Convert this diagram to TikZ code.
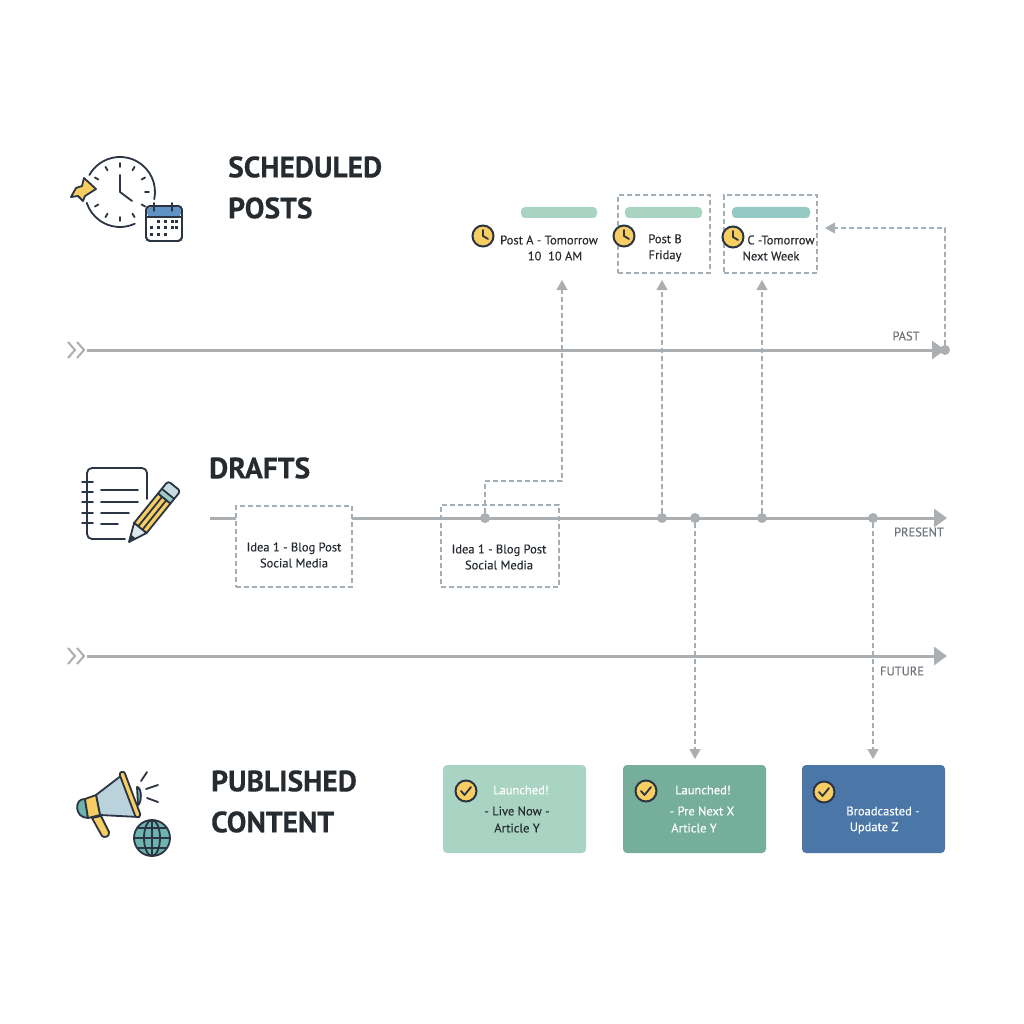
\documentclass[tikz,border=0pt]{standalone}
\usepackage{fontspec}
\setmainfont{PT Sans}
\newfontfamily\bodyfont[FakeBold=0.25]{PT Sans}
\newfontfamily\headfont[FakeBold=0.3]{PT Sans Bold}
\usetikzlibrary{arrows.meta,positioning}

\definecolor{axisgray}{HTML}{ABAFB2}
\definecolor{dashgray}{HTML}{A3AFB8}
\definecolor{labelgray}{HTML}{6E7478}
\definecolor{inkdark}{HTML}{262B30}
\definecolor{navy}{HTML}{2A3442}
\definecolor{sunny}{HTML}{F8CE62}
\definecolor{mintlight}{HTML}{A9D3C2}
\definecolor{mintdark}{HTML}{76AE9C}
\definecolor{steelblue}{HTML}{4A76A8}
\definecolor{tealbar}{HTML}{94C9C4}
\definecolor{globeteal}{HTML}{70B3AE}
\definecolor{hornblue}{HTML}{BAD2DC}
\definecolor{calblue}{HTML}{5F93C6}

\begin{document}
\begin{tikzpicture}[x=1pt,y=-1pt,>={Triangle[length=10pt,width=11pt,color=axisgray]}]
  \tikzset{
    heading/.style={font=\headfont\fontsize{29.5}{30}\selectfont,text=inkdark,anchor=west,inner sep=0pt},
    bodytext/.style={font=\bodyfont\fontsize{12.5}{16}\selectfont,text=inkdark,align=center,inner sep=0pt},
    axislabel/.style={font=\bodyfont\fontsize{12.5}{14}\selectfont,text=labelgray,inner sep=0pt},
    axisline/.style={draw=axisgray,line width=3pt,-{Triangle[length=13pt,width=18pt]}},
    dashbox/.style={draw=dashgray,dash pattern=on 5pt off 3pt,line width=1.2pt,inner sep=0pt},
    dashlink/.style={draw=dashgray,dash pattern=on 5pt off 3pt,line width=1.2pt,->},
    dot/.style={circle,fill=axisgray,minimum size=10pt,inner sep=0pt},
    pill/.style={rounded corners=4pt,minimum height=11pt,inner sep=0pt},
    card/.style={rounded corners=4pt,minimum width=143pt,minimum height=88pt,inner sep=0pt},
    badge/.style={circle,draw=navy,line width=2pt,fill=sunny,minimum size=21pt,inner sep=0pt},
    iconline/.style={draw=navy,line width=1.8pt,line cap=round,line join=round}
  }
  \useasboundingbox[fill=white] (0,0) rectangle (1024,1024);

  % Headings
  \node[heading] (hSched) at (228,167) {SCHEDULED};
  \node[heading] (hPosts) at (228,208) {POSTS};
  \node[heading] (hDrafts) at (209,468) {DRAFTS};
  \node[heading] (hPub) at (211,781) {PUBLISHED};
  \node[heading] (hCont) at (211,822) {CONTENT};

  % Timelines
  \coordinate (pastL) at (87,350);
  \coordinate (pastR) at (945,350);
  \coordinate (nowL) at (210,518);
  \coordinate (nowR) at (947,518);
  \coordinate (futL) at (87,656);
  \coordinate (futR) at (947,656);
  \draw[axisline] (pastL) -- (pastR);
  \draw[axisline] (nowL) -- (nowR);
  \draw[axisline] (futL) -- (futR);
  \foreach \ya in {350,656}{
    \draw[axisgray,line width=2pt] (68,\ya-8) -- (75,\ya) -- (68,\ya+8);
    \draw[axisgray,line width=2pt] (77,\ya-8) -- (84,\ya) -- (77,\ya+8);
  }
  \node[axislabel] (lPast) at (906,336) {PAST};
  \node[axislabel] (lNow) at (919,532) {PRESENT};
  \node[axislabel] (lFut) at (902,671) {FUTURE};

  % Points on the timelines
  \node[dot] (dA) at (485,518) {};
  \node[dot] (dB) at (662,518) {};
  \node[dot] (dX) at (695,518) {};
  \node[dot] (dC) at (762,518) {};
  \node[dot] (dZ) at (873,518) {};
  \node[dot] (dP) at (945,350) {};

  % Scheduled
  \node[pill,fill=mintlight,minimum width=76pt] (barA) at (559,212.5) {};
  \node[pill,fill=mintlight,minimum width=77pt] (barB) at (663.5,212.5) {};
  \node[pill,fill=tealbar,minimum width=78pt] (barC) at (771,212.5) {};
  \node[dashbox,minimum width=92pt,minimum height=78pt] (boxB) at (664,234) {};
  \node[dashbox,minimum width=93pt,minimum height=78pt] (boxC) at (770.5,234) {};
  \node[bodytext] (txtA) at (549,240) {Post A - Tomorrow};
  \node[bodytext] (txtAb) at (555,256) {10\ \ 10 AM};
  \node[bodytext] (txtB) at (665,248) {Post B\\Friday};
  \node[bodytext] (txtC) at (781,240) {C -Tomorrow};
  \node[bodytext] (txtCb) at (771,256) {Next Week};
  \foreach \nm/\xa/\ya in {clkA/483/236,clkB/624/236,clkC/733/237}{
    \node[badge] (\nm) at (\xa,\ya) {};
    \draw[navy,line width=1.8pt,line cap=round] (\xa,\ya-6) -- (\xa,\ya) -- (\xa+5,\ya+3);
  }

  % Drafts
  \node[dashbox,fill=white,minimum width=116pt,minimum height=81pt] (ideaA) at (294,546.5) {};
  \node[dashbox,minimum width=118pt,minimum height=82pt] (ideaB) at (500,546) {};
  \node[bodytext] (txtIa) at (294,555) {Idea 1 - Blog Post\\Social Media};
  \node[bodytext] (txtIb) at (499,557) {Idea 1 - Blog Post\\Social Media};

  % Published
  \node[card,fill=mintlight] (cardA) at (514.5,809) {};
  \node[card,fill=mintdark] (cardB) at (694.5,809) {};
  \node[card,fill=steelblue] (cardC) at (873.5,809) {};
  \foreach \nm/\xa/\ya in {chkA/466/791,chkB/646/791,chkC/824/792}{
    \node[badge] (\nm) at (\xa,\ya) {};
    \draw[navy,line width=1.8pt,line cap=round,line join=round] (\xa-5,\ya) -- (\xa-1.5,\ya+4) -- (\xa+5,\ya-4);
  }
  \node[bodytext,text=white] (t1) at (521,790) {Launched!};
  \node[bodytext] (t2) at (517,811) {- Live Now -};
  \node[bodytext] (t3) at (517,828) {Article Y};
  \node[bodytext,text=white] (t4) at (703,790) {Launched!};
  \node[bodytext,text=white] (t5) at (702,811) {- Pre Next X};
  \node[bodytext,text=white] (t6) at (694,828) {Article Y};
  \node[bodytext,text=white] (t7) at (883,811) {Broadcasted -};
  \node[bodytext,text=white] (t8) at (874,828) {Update Z};

  % Links
  \coordinate (upA) at (562,280);
  \coordinate (upB) at (662,280);
  \coordinate (upC) at (762,280);
  \coordinate (downX) at (695,759);
  \coordinate (downZ) at (873,759);
  \coordinate (backP) at (825,228);
  \draw[dashlink] (dA) -- (485,481) -- (562,481) -- (upA);
  \draw[dashlink] (dB) -- (upB);
  \draw[dashlink] (dC) -- (upC);
  \draw[dashlink] (dX) -- (downX);
  \draw[dashlink] (dZ) -- (downZ);
  \draw[dashlink] (dP) -- (945,228) -- (backP);

  % Clock icon
  \draw[iconline] (120,192) ++(209:35) arc[start angle=209,end angle=372,radius=35];
  \draw[iconline] (120,192) ++(65:35) arc[start angle=65,end angle=162,radius=35];
  \foreach \an in {-90,-60,-30,0,30,60,90,120,150,210,240}{
    \draw[iconline] (120,192) ++(\an:25) -- ++(\an:4);
  }
  \draw[iconline] (120,175) -- (120,192) -- (132,201);
  \draw[iconline,fill=sunny] (96,189) -- (84,178) -- (82,186) -- (76,188) -- (71,197) -- (78,196) -- (83,201) -- (85,196) -- cycle;
  \draw[iconline,fill=white,rounded corners=4pt] (146,206) rectangle (182,241);
  \fill[calblue,rounded corners=4pt] (147,207) rectangle (181,217);
  \draw[iconline] (146,217) -- (182,217);
  \draw[iconline,rounded corners=4pt] (146,206) rectangle (182,241);
  \draw[iconline] (154,203) -- (154,211);
  \draw[iconline] (172,203) -- (172,211);
  \foreach \xa in {158,165,172,176}{\fill[navy] (\xa-1.5,220.5) rectangle +(3,3);}
  \foreach \xa in {151,158,165,172,176}{\fill[navy] (\xa-1.5,226.5) rectangle +(3,3);}
  \foreach \xa in {151,158,165}{\fill[navy] (\xa-1.5,233) rectangle +(3,3);}

  % Notebook icon
  \draw[iconline,rounded corners=5pt] (147,499) -- (147,468) -- (87,468) -- (87,539) -- (125,539);
  \foreach \ya in {482,492,502,513,523}{\draw[iconline] (82,\ya) -- (93,\ya);}
  \draw[iconline] (101,490) -- (138,490);
  \draw[iconline] (101,502) -- (138,502);
  \draw[iconline] (101,513) -- (129,513);
  \draw[iconline] (101,524) -- (118,524);
  \begin{scope}[shift={(129,542)},rotate=51]
    \draw[iconline,fill=sunny] (18,-8) rectangle (56,8);
    \draw[iconline] (18,-2.7) -- (56,-2.7);
    \draw[iconline] (18,2.7) -- (56,2.7);
    \draw[iconline,fill=hornblue!80!white,rounded corners=3pt] (60,-8) -- (72,-8) -- (72,8) -- (60,8) -- cycle;
    \draw[iconline,fill=globeteal!70!white] (56,-8) rectangle (62,8);
    \draw[iconline,fill=hornblue!50!white] (0,0) -- (18,-8) -- (18,8) -- cycle;
    \fill[navy] (0,0) -- (7,-3.1) -- (7,3.1) -- cycle;
  \end{scope}

  % Megaphone icon
  \draw[iconline,fill=globeteal] (137,787) .. controls (142,787) and (142,803) .. (138,805) -- cycle;
  \draw[iconline,fill=hornblue] (96,795) -- (122,775) -- (139,817) -- (100,815) -- cycle;
  \draw[iconline,fill=globeteal] (85,799) .. controls (74,798) and (74,818) .. (88,818) -- cycle;
  \draw[iconline,fill=sunny] (92,818) -- (101,816) -- (109,832) .. controls (110,837) and (104,838) .. (102,836) -- cycle;
  \draw[iconline,fill=sunny] (85,799) -- (96,795) -- (100,815) -- (88,818) -- cycle;
  \draw[iconline,fill=sunny,rounded corners=2.5pt] (119,773) -- (124,771) -- (141,816) -- (136,818) -- cycle;
  \draw[iconline] (141,781) -- (147,772);
  \draw[iconline] (146,789) -- (158,785);
  \draw[iconline] (147,798) -- (158,802);
  \draw[iconline,fill=globeteal] (152,838) circle[radius=18];
  \draw[iconline] (152,838) ellipse[x radius=8,y radius=18];
  \draw[iconline] (134,838) -- (170,838);
  \draw[iconline] (152,820) -- (152,856);
  \draw[iconline] (138,828) -- (166,828);
  \draw[iconline] (138,848) -- (166,848);
\end{tikzpicture}
\end{document}
